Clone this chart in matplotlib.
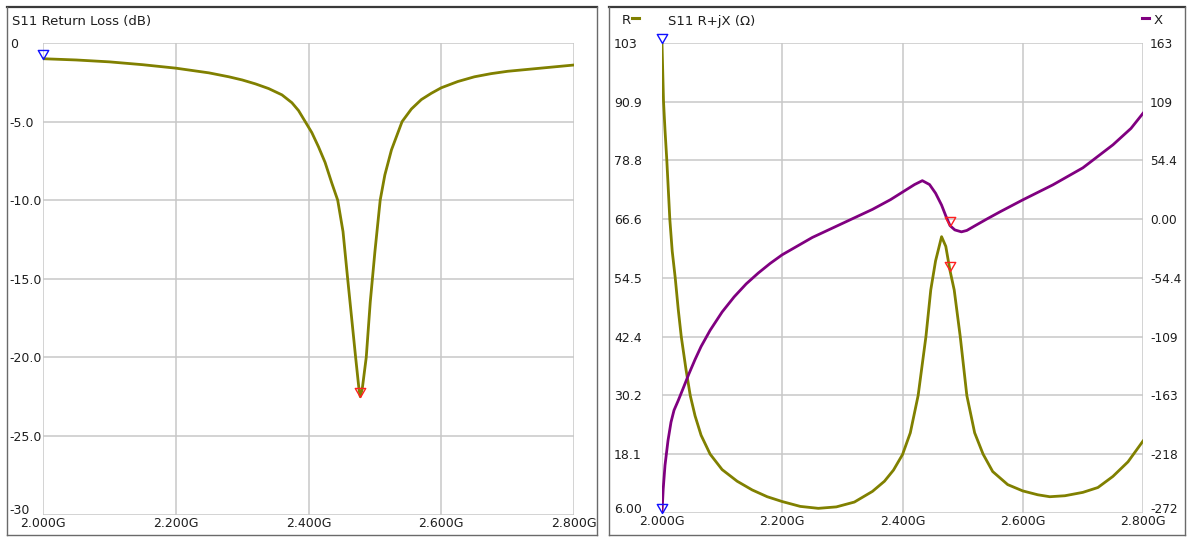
import numpy as np
import matplotlib.pyplot as plt
from matplotlib.path import Path
from matplotlib.transforms import Bbox, TransformedBbox

# S11 return loss (dB)
rl_freq = [2.000, 2.050, 2.100, 2.150, 2.200, 2.250, 2.280, 2.300, 2.320, 2.340,
           2.360, 2.375, 2.385, 2.395, 2.405, 2.415, 2.425, 2.435, 2.444, 2.452,
           2.459, 2.465, 2.471, 2.476, 2.478, 2.481, 2.487, 2.493, 2.500, 2.508,
           2.515, 2.525, 2.541, 2.555, 2.570, 2.585, 2.600, 2.625, 2.650, 2.675,
           2.700, 2.750, 2.800]
rl_db = [-1.0, -1.08, -1.2, -1.38, -1.6, -1.9, -2.15, -2.35, -2.6, -2.9,
         -3.3, -3.8, -4.3, -5.0, -5.7, -6.6, -7.6, -8.9, -10.0, -12.0,
         -15.0, -17.5, -20.0, -22.0, -22.5, -22.0, -20.0, -16.5, -13.3, -10.0,
         -8.4, -6.8, -5.0, -4.2, -3.6, -3.2, -2.85, -2.45, -2.15, -1.95,
         -1.8, -1.6, -1.4]

# S11 resistance R (ohm)
r_freq = [2.000, 2.0025, 2.005, 2.008, 2.013, 2.017, 2.022, 2.027, 2.032, 2.040,
          2.047, 2.055, 2.065, 2.080, 2.100, 2.125, 2.150, 2.175, 2.200, 2.230,
          2.260, 2.290, 2.320, 2.350, 2.370, 2.385, 2.400, 2.413, 2.426, 2.439,
          2.447, 2.455, 2.465, 2.472, 2.479, 2.486, 2.496, 2.507, 2.520, 2.534,
          2.550, 2.575, 2.600, 2.625, 2.645, 2.670, 2.700, 2.725, 2.750, 2.775,
          2.800]
r_ohm = [103, 91.0, 85.0, 78.8, 66.6, 60.0, 54.5, 48.0, 42.4, 35.5,
         30.2, 26.0, 22.0, 18.1, 14.9, 12.5, 10.7, 9.3, 8.3, 7.3,
         6.9, 7.2, 8.2, 10.4, 12.5, 14.8, 18.0, 22.5, 30.2, 42.4,
         52.0, 58.0, 63.0, 61.0, 56.0, 52.0, 42.4, 30.2, 22.5, 18.1,
         14.5, 11.8, 10.5, 9.7, 9.3, 9.5, 10.2, 11.2, 13.5, 16.5,
         20.8]

# S11 reactance X (ohm)
x_freq = [2.000, 2.002, 2.005, 2.010, 2.015, 2.020, 2.027, 2.035, 2.045, 2.055,
          2.065, 2.080, 2.100, 2.120, 2.140, 2.160, 2.180, 2.200, 2.250, 2.300,
          2.350, 2.380, 2.400, 2.420, 2.433, 2.445, 2.455, 2.465, 2.472, 2.479,
          2.487, 2.498, 2.507, 2.521, 2.540, 2.562, 2.600, 2.650, 2.700, 2.750,
          2.780, 2.800]
x_ohm = [-272, -250, -228, -205, -188, -177, -168, -157, -143, -130,
         -118, -103, -86, -72, -60, -50, -41, -33, -17, -4,
         9, 18, 25, 32, 35.6, 32, 24, 13, 3, -6,
         -10, -11.8, -10.5, -6, 0, 6.7, 17.8, 31.7, 47.5, 68.8,
         84, 98]

freq_ticks = [2.0, 2.2, 2.4, 2.6, 2.8]
freq_labels = ['2.000G', '2.200G', '2.400G', '2.600G', '2.800G']
rl_ticks = [0, -5, -10, -15, -20, -25, -30]
rl_labels = ['0', '-5.0', '-10.0', '-15.0', '-20.0', '-25.0', '-30']
r_ticks = [6.0, 18.125, 30.25, 42.375, 54.5, 66.625, 78.75, 90.875, 103.0]
r_labels = ['6.00', '18.1', '30.2', '42.4', '54.5', '66.6', '78.8', '90.9', '103']
x_ticks = [-271.9, -217.525, -163.15, -108.775, -54.4, -0.025, 54.35, 108.725, 163.1]
x_labels = ['-272', '-218', '-163', '-109', '-54.4', '0.00', '54.4', '109', '163']

OLIVE = '#808000'
PURPLE = '#800080'
GRID = '#c8c8c8'
TXT = '#1e1e1e'

plt.rcParams['font.family'] = ['DejaVu Sans']
plt.rcParams['font.size'] = 9

W, H = 1188, 537
fig = plt.figure(figsize=(W / 100, H / 100), dpi=100)

# marker: down triangle with its tip on the data point
tri = Path([(-1.1, 1.9), (1.1, 1.9), (0, 0), (-1.1, 1.9)],
           [Path.MOVETO, Path.LINETO, Path.LINETO, Path.CLOSEPOLY])
MK = dict(marker=tri, ms=13, mfc='none', mew=1.0, clip_on=False)


def px_rect(x0, y0, x1, y1):
    return [x0 / W, 1 - y1 / H, (x1 - x0) / W, (y1 - y0) / H]


def panel_frame(x0, y0, x1, y1):
    fig.add_artist(plt.Line2D([x0 / W, x1 / W], [1 - y0 / H] * 2, color='#3a3a3a', lw=1.6))
    fig.add_artist(plt.Line2D([x0 / W, x0 / W], [1 - y0 / H, 1 - y1 / H], color='#6a6a6a', lw=1.0))
    fig.add_artist(plt.Line2D([x1 / W, x1 / W], [1 - y0 / H, 1 - y1 / H], color='#6a6a6a', lw=1.0))
    fig.add_artist(plt.Line2D([x0 / W, x1 / W], [1 - y1 / H] * 2, color='#6a6a6a', lw=1.0))


def style(ax):
    for s in ax.spines.values():
        s.set_visible(False)
    ax.grid(True, color=GRID, lw=1.1)
    ax.set_axisbelow(True)
    ax.tick_params(length=0, colors=TXT)


# ---- left panel: return loss ----
ax1 = fig.add_axes(px_rect(43, 43, 574, 514.5))
style(ax1)
ax1.plot(rl_freq, rl_db, color=OLIVE, lw=2.0, zorder=3)
ax1.plot(rl_freq[0], rl_db[0], mec='#1010ff', zorder=4, **MK)
imin = int(np.argmin(rl_db))
ax1.plot(rl_freq[imin], rl_db[imin], mec='#ff2020', zorder=4, **MK)
ax1.set_xlim(2.0, 2.8)
ax1.set_ylim(-30, 0)
ax1.set_xticks(freq_ticks, freq_labels)
ax1.set_yticks(rl_ticks, rl_labels)
ax1.tick_params(axis='y', pad=24)
ax1.tick_params(axis='x', pad=2)
for lab in ax1.get_yticklabels():
    lab.set_ha('left')
ax1.get_yticklabels()[-1].set_va('baseline')
clip = TransformedBbox(Bbox([[7 / W, 0], [597 / W, 1]]), fig.transFigure)
for lab in ax1.get_xticklabels():
    lab.set_clip_box(clip)
    lab.set_clip_on(True)
fig.text(12 / W, 1 - 21 / H, 'S11 Return Loss (dB)', ha='left', va='center', color=TXT, fontsize=9.5)
panel_frame(7, 6.5, 597, 535)

# ---- right panel: R + jX ----
ax2 = fig.add_axes(px_rect(662, 43, 1143, 512.7))
style(ax2)
ax2.plot(r_freq, r_ohm, color=OLIVE, lw=2.0, zorder=3)
ax2.set_xlim(2.0, 2.8)
ax2.set_ylim(6.0, 103.0)
ax2.set_xticks(freq_ticks, freq_labels)
ax2.set_yticks(r_ticks, r_labels)
ax2.tick_params(axis='y', pad=34.5)
ax2.tick_params(axis='x', pad=2)
for lab in ax2.get_yticklabels():
    lab.set_ha('left')
ax2.get_yticklabels()[0].set_va('baseline')

ax3 = ax2.twinx()
for s in ax3.spines.values():
    s.set_visible(False)
ax3.plot(x_freq, x_ohm, color=PURPLE, lw=2.0, zorder=3)
ax3.set_ylim(-271.9, 163.1)
ax3.set_yticks(x_ticks, x_labels)
ax3.tick_params(length=0, colors=TXT, pad=5, labelsize=8.7)
ax3.get_yticklabels()[0].set_va('baseline')

# markers
ax2.plot(r_freq[0], r_ohm[0], mec='#1010ff', zorder=5, **MK)
ax3.plot(x_freq[0], x_ohm[0], mec='#1010ff', zorder=5, **MK)
ax2.plot(r_freq[34], r_ohm[34], mec='#ff2020', zorder=5, **MK)
ax3.plot(x_freq[29], x_ohm[29], mec='#ff2020', zorder=5, **MK)

fig.text(622 / W, 1 - 21 / H, 'R', ha='left', va='center', color=TXT, fontsize=9.5)
fig.add_artist(plt.Line2D([632 / W, 639 / W], [1 - 18 / H] * 2, color=OLIVE, lw=2.2))
fig.text(668 / W, 1 - 21 / H, 'S11 R+jX (Ω)', ha='left', va='center', color=TXT, fontsize=9.5)
fig.add_artist(plt.Line2D([1142 / W, 1149 / W], [1 - 18 / H] * 2, color=PURPLE, lw=2.2))
fig.text(1154 / W, 1 - 21 / H, 'X', ha='left', va='center', color=TXT, fontsize=9.5)
panel_frame(609, 6.5, 1185, 535)

fig.savefig('out.png', dpi=100, facecolor='white')
